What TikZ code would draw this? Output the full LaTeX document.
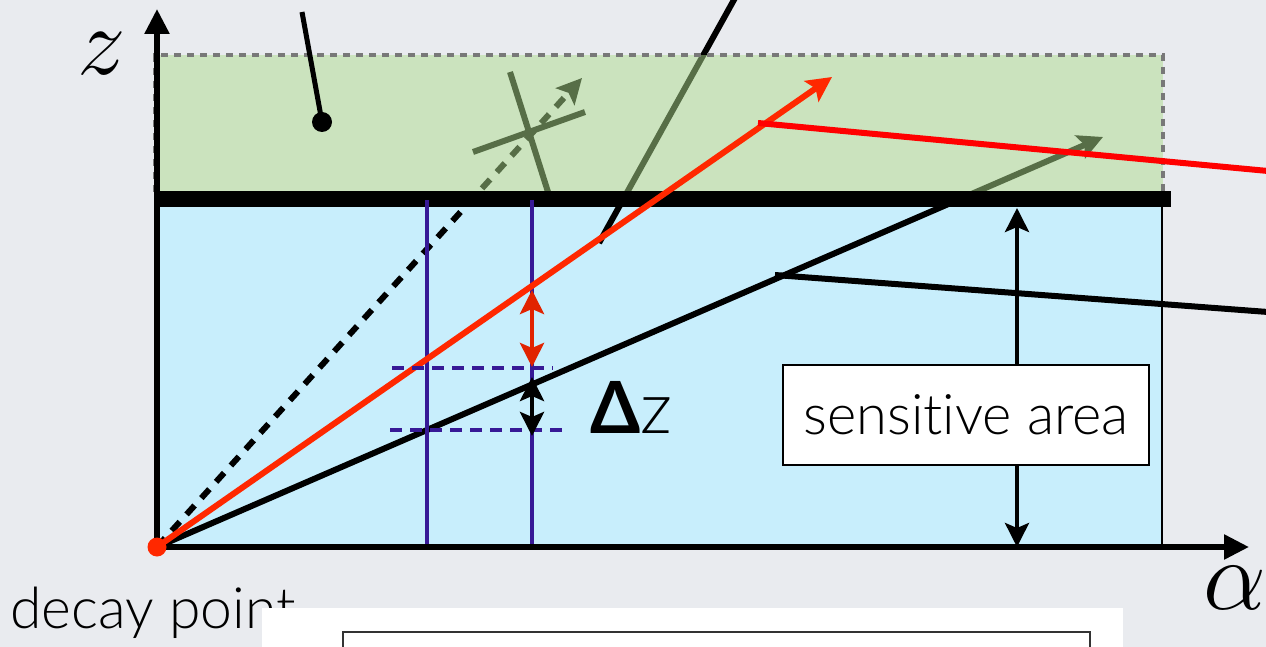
\RequirePackage{fix-cm}
\documentclass[tikz,border=0pt]{standalone}
\usepackage{fontspec}
\setmainfont{Lato}[UprightFont = * Light, BoldFont = * Bold, Ligatures=NoCommon]
\usetikzlibrary{arrows.meta}
\definecolor{bg}{RGB}{233,235,239}
\definecolor{skyfill}{RGB}{200,238,252}
\definecolor{greenov}{RGB}{174,220,142}
\definecolor{redA}{RGB}{255,40,0}
\definecolor{redB}{RGB}{255,0,0}
\definecolor{redC}{RGB}{225,35,0}
\definecolor{blueV}{RGB}{55,25,150}
\definecolor{grayd}{RGB}{120,120,120}
\begin{document}
\begin{tikzpicture}[x=1pt,y=-1pt,
  axisarrow/.style={line width=5.5pt,-{Triangle[length=25pt,width=24pt]}},
  track/.style={line width=6pt},
  tip/.style={-{Stealth[length=25pt,width=25pt,inset=5pt]}},
  dtip/.style={{Stealth[length=24pt,width=24pt,inset=5pt]}-{Stealth[length=24pt,width=24pt,inset=5pt]}},
  bluev/.style={blueV,line width=4pt},
  blueh/.style={blueV,line width=4.5pt,dash pattern=on 12pt off 8pt},
  lbl/.style={inner sep=0pt}]
\useasboundingbox (0,0) rectangle (1266,647);
\fill[bg] (0,0) rectangle (1266,647);
% coordinates
\coordinate (O) at (157,547);
\coordinate (zt) at (157,9);
\coordinate (at) at (1249,547);
% sensitive (blue) region
\fill[skyfill] (157,200) rectangle (1162,547);
\coordinate (rb1) at (1162,207);
\coordinate (rb2) at (1162,547);
\draw[line width=2.5pt] (rb1) -- (rb2);
% tracks that end up under the green layer
\coordinate (gtip) at (1103,137);
\coordinate (dtipc) at (582,78);
\coordinate (x1a) at (510,72);
\coordinate (x1b) at (548,192);
\coordinate (x2a) at (473,152);
\coordinate (x2b) at (585,112);
\coordinate (ta) at (735,-2);
\coordinate (tb) at (599,243);
\draw[track,tip] (O) -- (gtip);
\draw[track,tip,dash pattern=on 12pt off 10pt] (O) -- (dtipc);
\draw[line width=6pt] (x1a) -- (x1b);
\draw[line width=6pt] (x2a) -- (x2b);
\draw[track] (ta) -- (tb);
% green layer
\fill[greenov,opacity=0.5] (157,55) rectangle (1163,192);
\draw[grayd,line width=4pt,dash pattern=on 7pt off 6pt] (155,192) -- (155,55) -- (1163,55) -- (1163,192);
\draw[grayd!70!black,line width=2pt,dash pattern=on 7pt off 6pt] (157,192) -- (1163,192);
% thick bar
\coordinate (bl) at (157,199);
\coordinate (br) at (1171,199);
\draw[line width=16pt] (bl) -- (br);
% blue measuring lines
\coordinate (v1a) at (427,200);
\coordinate (v1b) at (427,547);
\coordinate (v2a) at (532,200);
\coordinate (v2b) at (532,547);
\draw[bluev] (v1a) -- (v1b);
\draw[bluev] (v2a) -- (v2b);
% red tracks
\coordinate (rtip) at (832,77);
\coordinate (r2a) at (758,123);
\coordinate (r2b) at (1268,171);
\draw[redA,track,tip] (O) -- (rtip);
\draw[redB,track] (r2a) -- (r2b);
% black secondary track
\coordinate (k2a) at (775,275);
\coordinate (k2b) at (1268,312);
\draw[track] (k2a) -- (k2b);
% dashed blue levels
\coordinate (h1a) at (392,368);
\coordinate (h1b) at (553,368);
\coordinate (h2a) at (390,430);
\coordinate (h2b) at (563,430);
\draw[blueh] (h1a) -- (h1b);
\draw[blueh] (h2a) -- (h2b);
% double arrows
\coordinate (ra) at (532,290);
\coordinate (rbb) at (532,367);
\draw[redC,line width=4.5pt,dtip] (ra) -- (rbb);
\coordinate (ka) at (532,377);
\coordinate (kb) at (532,436);
\draw[line width=4.5pt,dtip] (ka) -- (kb);
\coordinate (sa) at (1017,208);
\coordinate (sb) at (1017,547);
\draw[line width=4pt,dtip] (sa) -- (sb);
% axes
\draw[axisarrow] (O) -- (zt);
\draw[axisarrow] (O) -- (at);
% decay point dot
\node[circle,fill=redA,inner sep=0pt,minimum size=19pt] (dp) at (O) {};
% sensitive area box
\node[draw,line width=2.5pt,fill=white,minimum width=366pt,minimum height=100pt,inner sep=0pt,font=\fontsize{56}{56}\selectfont] (sens) at (966,415) {sensitive area};
% delta z
\node[lbl,anchor=base west,font=\fontsize{72}{72}\selectfont] (dz) at (590,433) {{\bfseries Δ}z};
% axis labels
\node[lbl,font=\fontsize{97}{97}\selectfont] (zl) at (102,54) {$z$};
\node[lbl,font=\fontsize{100}{100}\selectfont] (al) at (1235,588) {$\alpha$};
% decay point label
\node[lbl,anchor=base west,font=\fontsize{57}{57}\selectfont] (dpl) at (10,628) {decay point};
% white panel at bottom
\fill[white] (262,608) rectangle (1123,660);
\draw[black!80,line width=1.5pt] (343,660) -- (343,632) -- (1090,632) -- (1090,660);
% leader with dot
\node[circle,fill=black,inner sep=0pt,minimum size=20pt] (ld) at (322,122) {};
\coordinate (lt) at (302,12);
\draw[line width=5pt] (lt) -- (ld.center);
\end{tikzpicture}
\end{document}
